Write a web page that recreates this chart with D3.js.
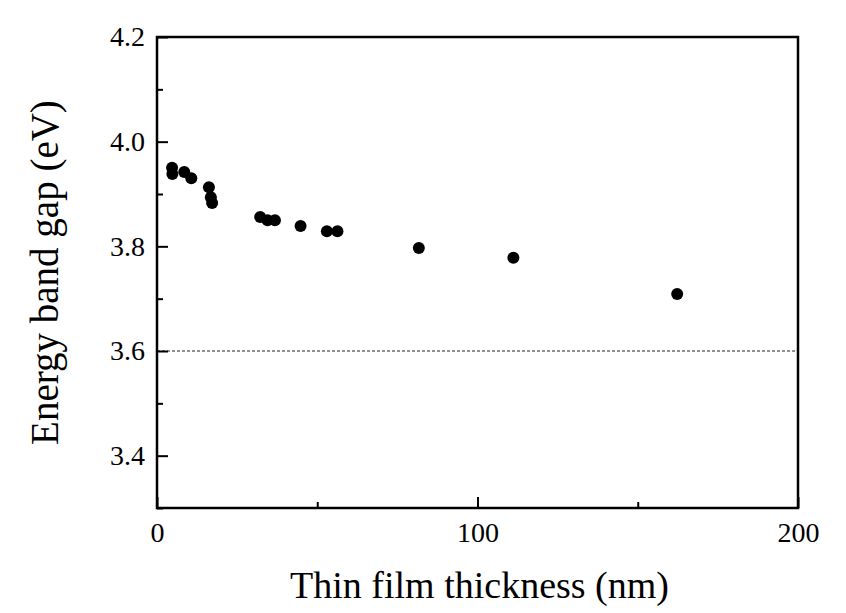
<!DOCTYPE html>
<html><head><meta charset="utf-8">
<script src="https://cdn.jsdelivr.net/npm/d3@7"></script>
<style>body{margin:0;background:#fff}svg{display:block}</style>
</head><body>
<svg id="c" width="846" height="613"></svg>
<script>
const thickness = [4.7, 4.8, 8.5, 10.7, 16.2, 16.8, 17.2, 32.2, 34.5, 36.8, 44.8, 53.0, 56.3, 81.7, 111.2, 162.3];
const bandGap   = [3.950, 3.938, 3.942, 3.930, 3.913, 3.894, 3.883, 3.856, 3.850, 3.850, 3.839, 3.829, 3.829, 3.797, 3.778, 3.709];
const xTicks = [0, 100, 200];
const xMinor = [50, 150];
const yTicks = [3.4, 3.6, 3.8, 4.0, 4.2];
const yMinor = [3.3, 3.5, 3.7, 3.9, 4.1];
const refGap = 3.6;
const xTitle = "Thin film thickness (nm)";
const yTitle = "Energy band gap (eV)";

const svg = d3.select("#c");
const L = 157, R = 798, T = 37, B = 508;
const x = d3.scaleLinear().domain([0, 200]).range([L, R]);
const y = d3.scaleLinear().domain([3.3, 4.2]).range([B, T]);
const font = "'Liberation Serif','Times New Roman',serif";

// reference dashed line
svg.append("line").attr("x1", x(0)).attr("x2", x(200)).attr("y1", y(refGap)).attr("y2", y(refGap))
  .attr("stroke", "#222").attr("stroke-width", 1).attr("stroke-dasharray", "3,2");

// axes
const xAxis = d3.axisBottom(x).tickValues(xTicks).tickSize(-11).tickPadding(14).tickFormat(d3.format("d"));
const xAxisM = d3.axisBottom(x).tickValues(xMinor).tickSize(-6).tickFormat("");
const yAxis = d3.axisLeft(y).tickValues(yTicks).tickSize(-11).tickPadding(12).tickFormat(d3.format(".1f"));
const yAxisM = d3.axisLeft(y).tickValues(yMinor).tickSize(-6).tickFormat("");

function style(g){
  g.select(".domain").remove();
  g.selectAll("line").attr("stroke", "#000").attr("stroke-width", 2);
  g.selectAll("text").attr("font-family", font).attr("font-size", 28).attr("fill", "#000");
}
svg.append("g").attr("transform", `translate(0,${B})`).call(xAxis).call(style);
svg.append("g").attr("transform", `translate(0,${B})`).call(xAxisM).call(style);
svg.append("g").attr("transform", `translate(${L},0)`).call(yAxis).call(style);
svg.append("g").attr("transform", `translate(${L},0)`).call(yAxisM).call(style);

// frame
svg.append("rect").attr("x", L).attr("y", T).attr("width", R - L).attr("height", B - T)
  .attr("fill", "none").attr("stroke", "#000").attr("stroke-width", 2.5);

// points
svg.append("g").selectAll("circle").data(thickness.map((t, i) => [t, bandGap[i]])).join("circle")
  .attr("cx", d => x(d[0])).attr("cy", d => y(d[1])).attr("r", 6).attr("fill", "#000");

// titles
svg.append("text").attr("x", (L + R) / 2 + 2).attr("y", 598).attr("text-anchor", "middle")
  .attr("font-family", font).attr("font-size", 38).text(xTitle);
svg.append("text").attr("transform", `translate(58,${(T + B) / 2}) rotate(-90)`).attr("text-anchor", "middle")
  .attr("font-family", font).attr("font-size", 39).text(yTitle);
</script>
</body></html>
